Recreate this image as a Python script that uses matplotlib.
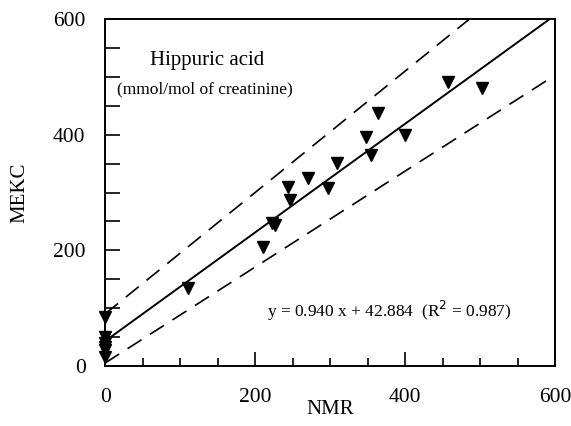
import numpy as np
import matplotlib
matplotlib.use("Agg")
import matplotlib.pyplot as plt
from matplotlib.ticker import MultipleLocator

plt.rcParams['font.family'] = ['Liberation Serif', 'DejaVu Serif']

# data (NMR vs MEKC, mmol/mol of creatinine)
nmr = [0, 0, 0, 0, 0, 0, 111, 211, 223, 227, 244, 247, 271, 297, 309, 348, 355, 364, 400, 457, 503]
mekc = [85, 50, 40, 33, 28, 16, 134, 206, 248, 244, 310, 287, 325, 308, 351, 396, 365, 438, 400, 492, 481]

slope, intercept = 0.940, 42.884
upper_slope, upper_int = 1.05, 90
lower_slope, lower_int = 0.83, 5

fig = plt.figure(figsize=(5.71, 4.26), dpi=100)
ax = fig.add_axes([0.184, 0.141, 0.788, 0.814])

xs = np.linspace(0, 600, 200)
ax.plot(xs, slope * xs + intercept, color='black', lw=1.4)
ax.plot(xs, upper_slope * xs + upper_int, color='black', lw=1.2, dashes=(10, 6))
ax.plot(xs, lower_slope * xs + lower_int, color='black', lw=1.2, dashes=(10, 6))
ax.plot(nmr, mekc, 'v', color='black', markersize=8.5, clip_on=False, zorder=5)

ax.set_xlim(0, 600)
ax.set_ylim(0, 600)
ax.xaxis.set_major_locator(MultipleLocator(200))
ax.xaxis.set_minor_locator(MultipleLocator(50))
ax.yaxis.set_major_locator(MultipleLocator(200))
ax.yaxis.set_minor_locator(MultipleLocator(50))
ax.tick_params(axis='x', which='major', direction='in', length=10, width=1.2, labelsize=15.5, pad=16)
ax.tick_params(axis='x', which='minor', direction='in', length=6, width=1.2)
ax.tick_params(axis='y', which='both', direction='in', length=11, width=1.2, labelsize=15.5, pad=14)
for sp in ax.spines.values():
    sp.set_linewidth(1.4)

ax.set_xlabel('NMR', fontsize=15, labelpad=-5)
ax.set_ylabel('MEKC', fontsize=15, labelpad=17)

ax.text(0.10, 0.882, 'Hippuric acid', transform=ax.transAxes, fontsize=15, va='center')
ax.text(0.027, 0.798, '(mmol/mol of creatinine)', transform=ax.transAxes, fontsize=12.5, va='center')
ax.text(0.36, 0.16, 'y = 0.940 x + 42.884  (R$^2$ = 0.987)', transform=ax.transAxes,
        fontsize=12.5, va='center')

fig.savefig('out.png', dpi=100)
